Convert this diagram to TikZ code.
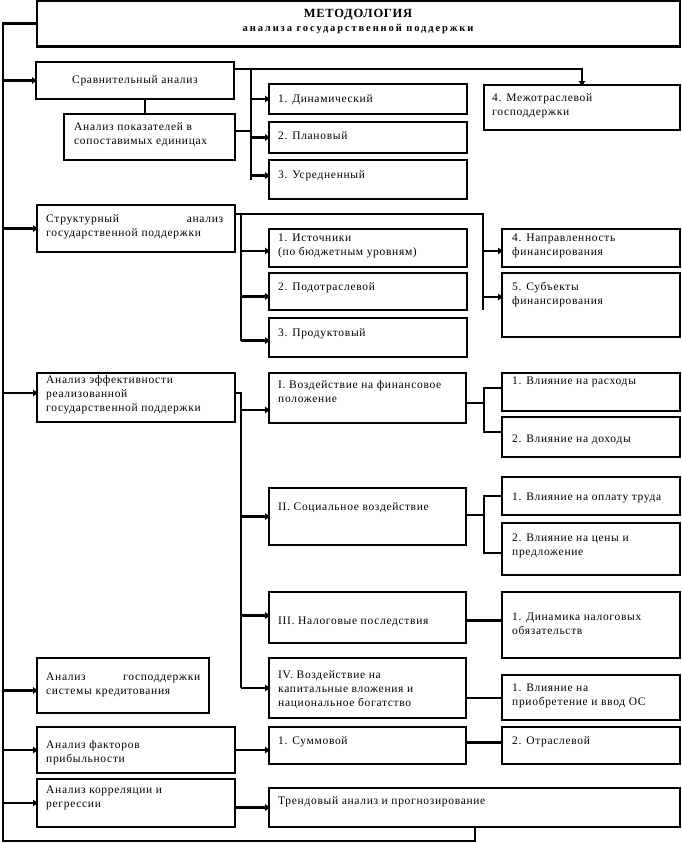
\documentclass[tikz,border=0pt]{standalone}
\usepackage{fontspec}
\setmainfont{Liberation Serif}[LetterSpace=6]
\usetikzlibrary{arrows.meta,calc}
\newcommand\bxfont{\fontsize{11.5}{14}\selectfont}
\begin{document}
\begin{tikzpicture}[x=1pt,y=-1pt,
  box/.style={draw, line width=2.8pt, anchor=north west, inner sep=0pt, outer sep=0pt},
  txt/.style={anchor=north west, inner sep=0pt, align=left, font=\bxfont},
  ln/.style={line width=2.8pt},
  arr/.style={line width=2.8pt, -{Triangle[length=5pt,width=6.5pt]}, shorten >=-1pt}]
\useasboundingbox (0,0) rectangle (682,843);
\node[box, minimum width=643pt, minimum height=46pt] (title) at (37,0.5) {};
\node[box, minimum width=198pt, minimum height=37pt] (cmp) at (36,62) {};
\node[box, minimum width=171pt, minimum height=46pt] (pk) at (64,114) {};
\node[box, minimum width=198pt, minimum height=30pt] (d1) at (269,84) {};
\node[box, minimum width=198pt, minimum height=31pt] (d2) at (269,122) {};
\node[box, minimum width=198pt, minimum height=39pt] (d3) at (269,160) {};
\node[box, minimum width=196pt, minimum height=45pt] (m4) at (484,85) {};
\node[box, minimum width=198pt, minimum height=47pt] (st) at (37,205) {};
\node[box, minimum width=198pt, minimum height=38pt] (s1) at (269,229) {};
\node[box, minimum width=198pt, minimum height=37pt] (s2) at (269,273) {};
\node[box, minimum width=198pt, minimum height=39pt] (s3) at (269,318) {};
\node[box, minimum width=178pt, minimum height=38pt] (n4) at (502,229) {};
\node[box, minimum width=178pt, minimum height=64pt] (s5) at (502,273) {};
\node[box, minimum width=198pt, minimum height=49pt] (ef) at (37,373) {};
\node[box, minimum width=197pt, minimum height=50pt] (i1) at (269,373) {};
\node[box, minimum width=178pt, minimum height=38pt] (r1) at (502,373) {};
\node[box, minimum width=178pt, minimum height=40pt] (r2) at (502,417) {};
\node[box, minimum width=197pt, minimum height=57pt] (i2) at (269,488) {};
\node[box, minimum width=178pt, minimum height=38pt] (r3) at (502,477) {};
\node[box, minimum width=178pt, minimum height=52pt] (r4) at (502,523) {};
\node[box, minimum width=197pt, minimum height=51pt] (i3) at (269,592) {};
\node[box, minimum width=178pt, minimum height=66pt] (dn) at (502,592) {};
\node[box, minimum width=197pt, minimum height=60pt] (i4) at (269,658) {};
\node[box, minimum width=178pt, minimum height=45pt] (pr) at (502,675) {};
\node[box, minimum width=172pt, minimum height=55pt] (kd) at (37,658) {};
\node[box, minimum width=198pt, minimum height=46pt] (fa) at (37,727) {};
\node[box, minimum width=197pt, minimum height=37pt] (sm) at (269,727) {};
\node[box, minimum width=178pt, minimum height=37pt] (ot) at (502,727) {};
\node[box, minimum width=198pt, minimum height=48pt] (kr) at (37,779) {};
\node[box, minimum width=411pt, minimum height=39pt] (tr) at (269,788) {};
% texts
\node[anchor=center, inner sep=0pt, font=\fontsize{12.5}{14}\selectfont\bfseries, align=center] (title-t) at (358,15) {МЕТОДОЛОГИЯ};
\node[anchor=center, inner sep=0pt, font=\fontsize{10.5}{14}\selectfont\bfseries\addfontfeature{LetterSpace=18}, align=center] (title-t2) at (358,29.5) {анализа государственной поддержки};
\node[anchor=center, inner sep=0pt, font=\bxfont] (cmp-t) at (cmp.center) {Сравнительный анализ};
\node[txt] (pk-t) at (74,120) {\strut Анализ показателей в\\сопоставимых единицах};
\node[txt] (d1-t) at (278,92) {\strut 1. Динамический};
\node[txt] (d2-t) at (278,129) {\strut 2. Плановый};
\node[txt] (d3-t) at (278,168) {\strut 3. Усредненный};
\node[txt] (m4-t) at (492,91) {\strut 4. Межотраслевой\\господдержки};
\node[txt, text width=177pt, align=left] (st-t) at (46,212) {\strut Структурный\hfill анализ\\государственной поддержки};
\node[txt] (s1-t) at (278,231) {\strut 1. Источники\\(по бюджетным уровням)};
\node[txt] (s2-t) at (278,280) {\strut 2. Подотраслевой};
\node[txt] (s3-t) at (278,326) {\strut 3. Продуктовый};
\node[txt] (n4-t) at (512,231) {\strut 4. Направленность\\финансирования};
\node[txt] (s5-t) at (512,280) {\strut 5. Субъекты\\финансирования};
\node[txt] (ef-t) at (46,373) {\strut Анализ эффективности\\реализованной\\государственной поддержки};
\node[txt] (i1-t) at (278,378) {\strut I. Воздействие на финансовое\\положение};
\node[txt] (r1-t) at (512,374) {\strut 1. Влияние на расходы};
\node[txt] (r2-t) at (512,432) {\strut 2. Влияние на доходы};
\node[txt] (i2-t) at (278,500) {\strut II. Социальное воздействие};
\node[txt] (r3-t) at (512,490) {\strut 1. Влияние на оплату труда};
\node[txt] (r4-t) at (512,531) {\strut 2. Влияние на цены и\\предложение};
\node[txt] (i3-t) at (278,614) {\strut III. Налоговые последствия};
\node[txt] (dn-t) at (512,610) {\strut 1. Динамика налоговых\\обязательств};
\node[txt] (i4-t) at (278,668) {\strut IV. Воздействие на\\капитальные вложения и\\национальное богатство};
\node[txt] (pr-t) at (512,681) {\strut 1. Влияние на\\приобретение и ввод ОС};
\node[txt, text width=154pt, align=left] (kd-t) at (46,670) {\strut Анализ\hfill господдержки\\системы кредитования};
\node[txt] (fa-t) at (46,738) {\strut Анализ факторов\\прибыльности};
\node[txt] (sm-t) at (278,734) {\strut 1. Суммовой};
\node[txt] (ot-t) at (512,734) {\strut 2. Отраслевой};
\node[txt] (kr-t) at (46,783) {\strut Анализ корреляции и\\регрессии};
\node[txt] (tr-t) at (278,794) {\strut Трендовый анализ и прогнозирование};
% junction coordinates
\coordinate (bl) at (3,841);
\coordinate (br) at (475,841);
\coordinate (c1) at (251,69);
\coordinate (c2) at (483,214);
\coordinate (c2i) at (241,214);
\coordinate (c3) at (241,393);
\coordinate (b1) at (484,403);
\coordinate (b2) at (484,515);
% spine
\draw[ln] (title.west) -| (bl) -- (br) -- (br |- tr.south);
\draw[arr] (bl |- cmp.west) -- (cmp.west);
\draw[arr] (bl |- st.west) -- (st.west);
\draw[arr] (bl |- c3) -- (ef.west |- c3);
\draw[arr] ([yshift=-5pt]bl |- kd.west) -- ([yshift=-5pt]kd.west);
\draw[arr] (bl |- fa.west) -- (fa.west);
\draw[arr] (bl |- kr.west) -- (kr.west);
% section 1
\draw[arr] (cmp.east |- c1) -| (m4.north);
\draw[ln] (c1) -- (c1 |- d3.west);
\draw[arr] (c1 |- d1.west) -- (d1.west);
\draw[arr] (c1 |- d2.west) -- (d2.west);
\draw[arr] ([yshift=4pt]c1 |- d3.west) -- ([yshift=4pt]d3.west);
\draw[ln] (cmp.south -| 145,0) -- (pk.north -| 145,0);
\draw[ln] ([yshift=6pt]pk.east) -- ([yshift=6pt]pk.east -| c1);
% section 2
\draw[ln] (st.east |- c2) -- (c2) -- ([yshift=-5pt]c2 |- s5.west);
\draw[arr] ([yshift=-3pt]c2 |- n4.west) -- ([yshift=-3pt]n4.west);
\draw[arr] ([yshift=8pt]c2 |- s5.west) -- ([yshift=8pt]s5.west);
\draw[ln] (c2i) -- ([yshift=-3pt]c2i |- s3.west);
\draw[arr] ([yshift=-3pt]c2i |- s1.west) -- ([yshift=-3pt]s1.west);
\draw[arr] ([yshift=-5pt]c2i |- s2.west) -- ([yshift=-5pt]s2.west);
\draw[arr] ([yshift=-3pt]c2i |- s3.west) -- ([yshift=-3pt]s3.west);
% section 3
\draw[ln] (ef.east |- c3) -- (c3) -- (c3 |- i4.west);
\draw[arr] ([yshift=-12pt]c3 |- i1.west) -- ([yshift=-12pt]i1.west);
\draw[arr] (c3 |- i2.west) -- (i2.west);
\draw[arr] ([yshift=2pt]c3 |- i3.west) -- ([yshift=2pt]i3.west);
\draw[arr] (c3 |- i4.west) -- (i4.west);
\draw[ln] (i1.east |- b1) -- (b1);
\draw[ln] ([yshift=4pt]r1.west) -| (b1) |- ([yshift=5pt]r2.west);
\draw[ln] (i2.east |- b2) -- (b2);
\draw[ln] (r3.west) -| (b2) |- ([yshift=-4pt]r4.west);
\draw[ln] ([yshift=-3pt]i3.east) -- ([yshift=-3pt]i3.east -| dn.west);
\draw[ln] ([yshift=-10pt]i4.east) -- ([yshift=-10pt]i4.east -| pr.west);
\draw[arr] (fa.east) -- (fa.east -| sm.west);
\draw[ln] ([yshift=3pt]sm.east) -- ([yshift=3pt]ot.west);
\draw[arr] (kr.east |- tr.west) -- (tr.west);
\end{tikzpicture}
\end{document}
